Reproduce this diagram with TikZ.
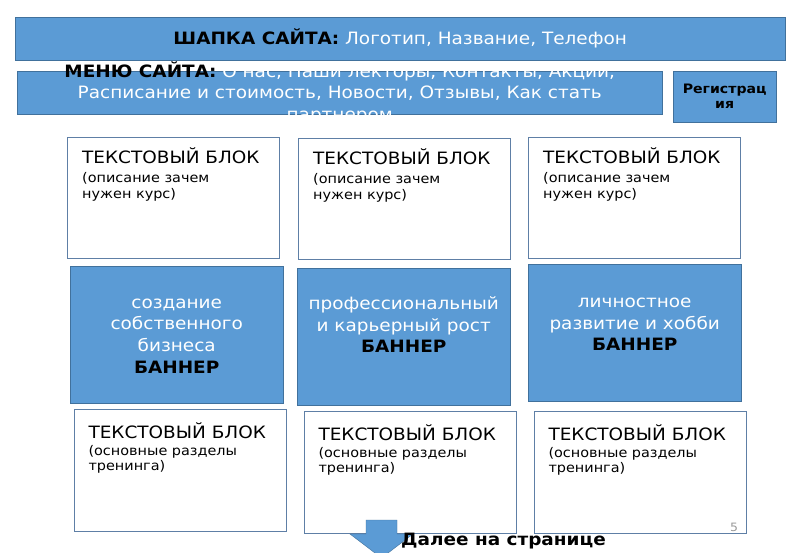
\documentclass[tikz,border=0pt]{standalone}
\usepackage{fontspec}
\setmainfont{DejaVu Sans}[FakeStretch=1.085]
\usetikzlibrary{positioning}
\definecolor{bannerblue}{HTML}{5B9BD5}
\definecolor{bannerline}{HTML}{41719C}
\definecolor{boxline}{HTML}{5E7FA6}

\begin{document}
\begin{tikzpicture}[x=1pt, y=-1pt,
  bar/.style={draw=bannerline, fill=bannerblue, anchor=north west, inner sep=0pt},
  banner/.style={bar, minimum width=213pt, minimum height=137pt},
  tbox/.style={draw=boxline, fill=white, anchor=north west, inner sep=0pt,
    minimum width=212pt, minimum height=121pt},
  bannertext/.style={anchor=base, align=center, text=white, inner sep=0pt,
    font=\fontsize{17}{21.7}\selectfont},
  blocktext/.style={anchor=base west, align=left, inner sep=0pt,
    font=\fontsize{13.3}{15.3}\selectfont}]
  \useasboundingbox (0,0) rectangle (800,553);

  % header and menu
  \node [bar, minimum width=770pt, minimum height=43pt, text=white,
    font=\fontsize{17}{20}\selectfont] (head) at (15,17)
    {{\color{black}\bfseries ШАПКА САЙТА:} Логотип, Название, Телефон};
  \node [bar, minimum width=645pt, minimum height=43pt] (menu) at (17,71) {};
  \node [align=center, text=white, inner sep=0pt,
    font=\fontsize{17}{21.6}\selectfont] (menutext) at (menu.center)
    {{\color{black}\bfseries МЕНЮ САЙТА:} О нас, Наши лекторы, Контакты, Акции,\\
     Расписание и стоимость, Новости, Отзывы, Как стать\\
     партнером};
  \node [bar, minimum width=103pt, minimum height=51pt, align=center,
    font=\bfseries\fontsize{13}{15}\selectfont] (reg) at (673,71) {Регистрац\\ия};

  % upper text blocks (base = last line)
  \foreach \n/\x/\y in {1/67/137, 2/298/138, 3/528/137} {
    \node [tbox] (t\n) at (\x,\y) {};
    \node [blocktext, below right=61.3pt and 15pt of t\n.north west, anchor=base west]
      (t\n txt) {{\fontsize{17}{17}\selectfont ТЕКСТОВЫЙ БЛОК}\\[3.7pt]
       (описание зачем\\ нужен курс)};
  }

  % banners
  \node [banner] (b1) at (70,266) {};
  \node [banner] (b2) at (297,268) {};
  \node [banner] (b3) at (528,264) {};
  \node [bannertext, below=107.3pt of b1.north, anchor=base] (b1txt)
    {создание\\собственного\\бизнеса\\{\color{black}\bfseries БАННЕР}};
  \node [bannertext, below=84.7pt of b2.north, anchor=base] (b2txt)
    {профессиональный\\и карьерный рост\\{\color{black}\bfseries БАННЕР}};
  \node [bannertext, below=86.7pt of b3.north, anchor=base] (b3txt)
    {личностное\\развитие и хобби\\{\color{black}\bfseries БАННЕР}};

  % lower text blocks
  \foreach \n/\x/\y in {1/74/409, 2/304/411, 3/534/411} {
    \node [tbox, minimum height=122pt] (s\n) at (\x,\y) {};
    \node [blocktext, below right=61.7pt and 14.3pt of s\n.north west, anchor=base west]
      (s\n txt) {{\fontsize{17}{17}\selectfont ТЕКСТОВЫЙ БЛОК}\\[1.4pt]
       (основные разделы\\ тренинга)};
  }
  \node [text=black!40, inner sep=0pt, anchor=base, font=\fontsize{11.5}{12}\selectfont]
    (pagenum) at (734,531.7) {5};

  % arrow to the next page
  \filldraw [fill=bannerblue, draw=bannerline] (366,520) -- (397,520) -- (397,534)
    -- (413,534) -- (381.5,558) -- (350,534) -- (366,534) -- cycle;
  \node [anchor=base west, inner sep=0pt, font=\bfseries\fontsize{17}{17}\selectfont]
    (more) at (401,545) {Далее на странице};
\end{tikzpicture}
\end{document}
